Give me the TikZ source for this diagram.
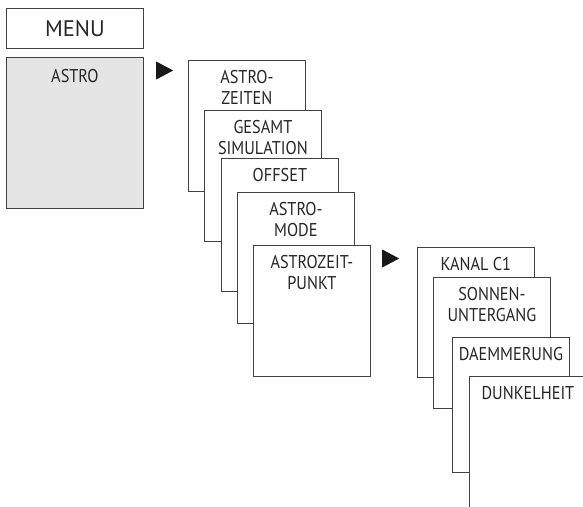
\documentclass[tikz,border=0pt]{standalone}
\usepackage{fontspec}
\setmainfont{PT Sans}[FakeStretch=0.88]
\newfontfamily\menufont{PT Sans}
\usetikzlibrary{shapes.geometric}

\begin{document}
\begin{tikzpicture}[
  x=1pt,y=1pt,
  font=\fontsize{18.5}{21}\selectfont,
  every node/.style={align=center},
  menubox/.style={draw=black!75,line width=.8pt,fill=white,anchor=north west,
    minimum width=117pt,minimum height=131pt,inner sep=0pt},
  title/.style={anchor=north,inner sep=0pt,text=black!85,yshift=-10pt},
  pointer/.style={isosceles triangle,isosceles triangle stretches,fill=black!90,
    inner sep=0pt,minimum width=18pt,minimum height=17pt,anchor=west}]

  \clip (0,0) rectangle (583,-506);
  \useasboundingbox (0,0) rectangle (583,-506);

  % Main menu
  \node[menubox,minimum width=137pt,minimum height=40pt] (menu) at (6,-8) {};
  \node[text=black!85,font=\menufont\fontsize{22.5}{26}\selectfont] (menutext) at (menu.center) {MENU};
  \node[menubox,fill=black!10,minimum width=137pt,minimum height=151pt] (astro) at (6,-57) {};
  \node[title,yshift=-2pt] (astrotext) at (astro.north) {ASTRO};
  \node[pointer] (arrowa) at (156,-70.5) {};

  % Astro submenu
  \node[menubox] (zeiten) at (188,-60) {};
  \node[title] (zeitentext) at (zeiten.north) {ASTRO-\\ZEITEN};
  \node[menubox] (simulation) at (204,-110) {};
  \node[title] (simulationtext) at (simulation.north) {GESAMT\\SIMULATION};
  \node[menubox,minimum height=133pt] (offset) at (221,-158) {};
  \node[title] (offsettext) at (offset.north) {OFFSET};
  \node[menubox] (mode) at (237,-192) {};
  \node[title] (modetext) at (mode.north) {ASTRO-\\MODE};
  \node[menubox] (zeitpunkt) at (253,-245) {};
  \node[title] (zeitpunkttext) at (zeitpunkt.north) {ASTROZEIT-\\PUNKT};
  \node[pointer] (arrowb) at (382,-258.5) {};

  % Astrozeitpunkt submenu
  \node[menubox,minimum height=130pt] (kanal) at (417,-247) {};
  \node[title] (kanaltext) at (kanal.north) {KANAL C1};
  \node[menubox] (untergang) at (433,-277) {};
  \node[title] (untergangtext) at (untergang.north) {SONNEN-\\UNTERGANG};
  \node[menubox,minimum height=135pt] (daemmerung) at (452,-337) {};
  \node[title] (daemmerungtext) at (daemmerung.north) {DAEMMERUNG};
  \node[menubox] (dunkelheit) at (469,-376) {};
  \node[title] (dunkelheittext) at (dunkelheit.north) {DUNKELHEIT};
\end{tikzpicture}
\end{document}
